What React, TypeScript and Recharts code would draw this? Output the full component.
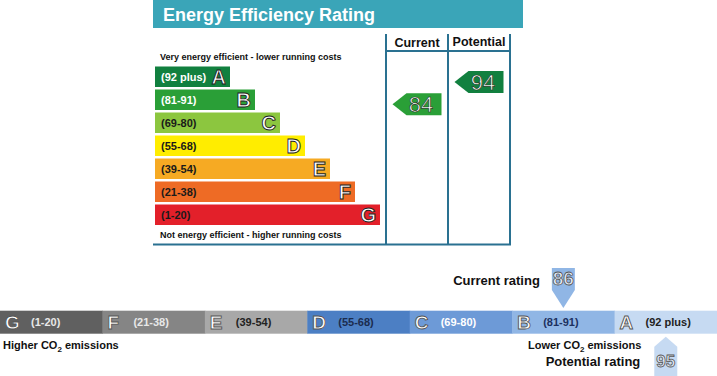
import React from "react";
import { BarChart, Bar, XAxis, YAxis, ScatterChart, Scatter } from "recharts";

const FONT = "Arial, 'Liberation Sans', Helvetica, sans-serif";

// bands, best to worst
const bands = ["A", "B", "C", "D", "E", "F", "G"];
const bandRanges = ["(92 plus)", "(81-91)", "(69-80)", "(55-68)", "(39-54)", "(21-38)", "(1-20)"];
const bandLow = [92, 81, 69, 55, 39, 21, 1];
const bandHigh = [100, 91, 80, 68, 54, 38, 20];
const barLength = [3, 4, 5, 6, 7, 8, 9];

const eeColors = ["#11803f", "#2a9f37", "#8cc63f", "#ffed00", "#f6aa23", "#ee6b25", "#e3202a"];
const eeTextColors = ["#ffffff", "#ffffff", "#1a1a1a", "#1a1a1a", "#1a1a1a", "#1a1a1a", "#1a1a1a"];
const co2Colors = ["#c6daf2", "#90b6e5", "#6d9ad7", "#4c7fc4", "#a8a8a8", "#858585", "#606060"];
const co2TextColors = ["#222222", "#1d3160", "#ffffff", "#1b2c4f", "#222222", "#e8e8e8", "#e8e8e8"];

const ratingColumns = ["Current", "Potential"];
const energyRatings = [84, 94];
const co2Ratings = [86, 95];
const co2Labels = ["Current rating", "Potential rating"];

const bandOf = (s: number) => bands.findIndex((_, i) => s >= bandLow[i] && s <= bandHigh[i]);

const eeData = bands.map((b, i) => ({ band: b, range: bandRanges[i], length: barLength[i], i }));

const arrowData = ratingColumns.map((c, k) => {
  const s = energyRatings[k];
  const b = bandOf(s);
  return { x: k + 0.5, y: b + (bandHigh[b] + 0.5 - s) / (bandHigh[b] - bandLow[b] + 1), score: s, color: eeColors[b] };
});

// bottom strip runs G -> A
const co2Order = bands.map((_, i) => 6 - i);
const co2Row = [Object.fromEntries([["row", "co2"], ...bands.map((b) => [b, 1])])];

const markerData = co2Ratings.map((s, k) => {
  const b = bandOf(s);
  return { x: 6 - b + 0.5, y: k === 0 ? 1 : 0, score: s, label: co2Labels[k], above: k === 0, color: co2Colors[b] };
});

const EEBar = (p: any) => {
  const { x, y, width, height, payload } = p;
  const i = payload.i;
  const mid = y + height / 2;
  return (
    <g>
      <rect x={x} y={y} width={width} height={height} fill={eeColors[i]} />
      <text x={x + 6} y={mid + 4} fontSize={11} fontWeight="bold" fill={eeTextColors[i]} fontFamily={FONT}>
        {payload.range}
      </text>
      <text x={x + width - 4} y={mid + 7.2} textAnchor="end" fontSize={20} fontWeight="bold" fill="#fff" stroke="#222" strokeWidth={0.9} fontFamily={FONT}>
        {payload.band}
      </text>
    </g>
  );
};

const Arrow = (p: any) => {
  const { cx, cy, payload } = p;
  const pts = `${cx - 24.5},${cy} ${cx - 10.5},${cy - 11} ${cx + 24.5},${cy - 11} ${cx + 24.5},${cy + 11} ${cx - 10.5},${cy + 11}`;
  return (
    <g>
      <polygon points={pts} fill={payload.color} />
      <text x={cx + 4} y={cy + 8} textAnchor="middle" fontSize={22} fill="#fff" stroke="#1d3a22" strokeWidth={0.7} fontFamily={FONT}>
        {payload.score}
      </text>
    </g>
  );
};

const co2Bar = (i: number) => (p: any) => {
  const { x, y, width, height } = p;
  const mid = y + height / 2;
  return (
    <g>
      <rect x={x} y={y} width={width + 0.5} height={height} fill={co2Colors[i]} />
      <text x={x + 5} y={mid + 6.8} fontSize={19} fontWeight="bold" fill="#fff" stroke="#555" strokeWidth={0.9} fontFamily={FONT}>
        {bands[i]}
      </text>
      <text x={x + 31} y={mid + 4} fontSize={11} fontWeight="bold" fill={co2TextColors[i]} fontFamily={FONT}>
        {bandRanges[i]}
      </text>
    </g>
  );
};

const Marker = (p: any) => {
  const { cx, cy, payload } = p;
  if (payload.above) {
    const tip = cy - 2.7;
    const top = tip - 40;
    const pts = `${cx - 11.5},${top} ${cx + 11.5},${top} ${cx + 11.5},${top + 22} ${cx},${tip} ${cx - 11.5},${top + 22}`;
    return (
      <g>
        <polygon points={pts} fill={payload.color} />
        <text x={cx} y={tip - 22.7} textAnchor="middle" fontSize={19} fontWeight="bold" fill="#e4ecf7" stroke="#555" strokeWidth={0.8} fontFamily={FONT}>
          {payload.score}
        </text>
        <text x={cx - 23.5} y={tip - 23} textAnchor="end" fontSize={13} fontWeight="bold" fill="#111" fontFamily={FONT}>
          {payload.label}
        </text>
      </g>
    );
  }
  const tip = cy + 2.7;
  const pts = `${cx},${tip} ${cx + 11.5},${tip + 10} ${cx + 11.5},${tip + 45} ${cx - 11.5},${tip + 45} ${cx - 11.5},${tip + 10}`;
  return (
    <g>
      <polygon points={pts} fill={payload.color} />
      <text x={cx} y={tip + 30} textAnchor="middle" fontSize={17} fontWeight="bold" fill="#e4ecf7" stroke="#555" strokeWidth={0.8} fontFamily={FONT}>
        {payload.score}
      </text>
      <text x={cx - 25.5} y={tip + 29.5} textAnchor="end" fontSize={13} fontWeight="bold" fill="#111" fontFamily={FONT}>
        {payload.label}
      </text>
    </g>
  );
};

const FRAME = "#2a7191";

export default function App() {
  return (
    <div style={{ position: "relative", width: 717, height: 376, background: "#fff", overflow: "hidden", fontFamily: FONT }}>
      <style>{"body{margin:0}"}</style>
      <svg width={717} height={376} style={{ position: "absolute", left: 0, top: 0 }} fontFamily={FONT}>
        <rect x={153} y={0} width={370} height={28} fill="#3aa5b8" />
        <text x={163} y={20.5} fontSize={18} fontWeight="bold" fill="#fff">Energy Efficiency Rating</text>
        <line x1={386} y1={34} x2={386} y2={245} stroke={FRAME} strokeWidth={2} />
        <line x1={448} y1={34} x2={448} y2={245} stroke={FRAME} strokeWidth={2} />
        <line x1={510} y1={34} x2={510} y2={245} stroke={FRAME} strokeWidth={2} />
        <line x1={386} y1={51} x2={510} y2={51} stroke={FRAME} strokeWidth={2} />
        <line x1={153} y1={244.5} x2={511} y2={244.5} stroke={FRAME} strokeWidth={2} />
        <text x={417} y={46.5} textAnchor="middle" fontSize={12.5} fontWeight="bold" fill="#111">{ratingColumns[0]}</text>
        <text x={479} y={46} textAnchor="middle" fontSize={12.5} fontWeight="bold" fill="#111">{ratingColumns[1]}</text>
        <text x={160} y={60} fontSize={9} fontWeight="bold" fill="#111">Very energy efficient - lower running costs</text>
        <text x={160} y={238} fontSize={9} fontWeight="bold" fill="#111">Not energy efficient - higher running costs</text>
        <text x={3} y={348.5} fontSize={11} fontWeight="bold" fill="#111">
          Higher CO<tspan fontSize={8} dy={3}>2</tspan><tspan dy={-3}> emissions</tspan>
        </text>
        <text x={528} y={348.5} fontSize={11} fontWeight="bold" fill="#111">
          Lower CO<tspan fontSize={8} dy={3}>2</tspan><tspan dy={-3}> emissions</tspan>
        </text>
      </svg>

      <div style={{ position: "absolute", left: 155, top: 60 }}>
        <BarChart width={240} height={180} data={eeData} layout="vertical" margin={{ top: 5.5, right: 0, bottom: 13.5, left: 0 }}>
          <XAxis type="number" domain={[0, 9.6]} hide />
          <YAxis type="category" dataKey="band" hide />
          <Bar dataKey="length" barSize={20.5} shape={EEBar} isAnimationActive={false} />
        </BarChart>
      </div>

      <div style={{ position: "absolute", left: 386, top: 60 }}>
        <ScatterChart width={124} height={180} margin={{ top: 5.5, right: 0, bottom: 13.5, left: 0 }}>
          <XAxis type="number" dataKey="x" domain={[0, 2]} hide />
          <YAxis type="number" dataKey="y" domain={[0, 7]} reversed hide />
          <Scatter data={arrowData} shape={Arrow} isAnimationActive={false} />
        </ScatterChart>
      </div>

      <div style={{ position: "absolute", left: 0, top: 260 }}>
        <BarChart width={717} height={116} data={co2Row} layout="vertical" barCategoryGap={0} margin={{ top: 50.7, right: 0, bottom: 42, left: 0 }}>
          <XAxis type="number" domain={[0, 7]} hide />
          <YAxis type="category" dataKey="row" hide />
          {co2Order.map((i) => (
            <Bar key={bands[i]} dataKey={bands[i]} stackId="co2" shape={co2Bar(i)} isAnimationActive={false} />
          ))}
        </BarChart>
      </div>

      <div style={{ position: "absolute", left: 0, top: 260 }}>
        <ScatterChart width={717} height={116} margin={{ top: 50.7, right: 0, bottom: 42, left: 0 }}>
          <XAxis type="number" dataKey="x" domain={[0, 7]} hide />
          <YAxis type="number" dataKey="y" domain={[0, 1]} hide />
          <Scatter data={markerData} shape={Marker} isAnimationActive={false} />
        </ScatterChart>
      </div>
    </div>
  );
}
